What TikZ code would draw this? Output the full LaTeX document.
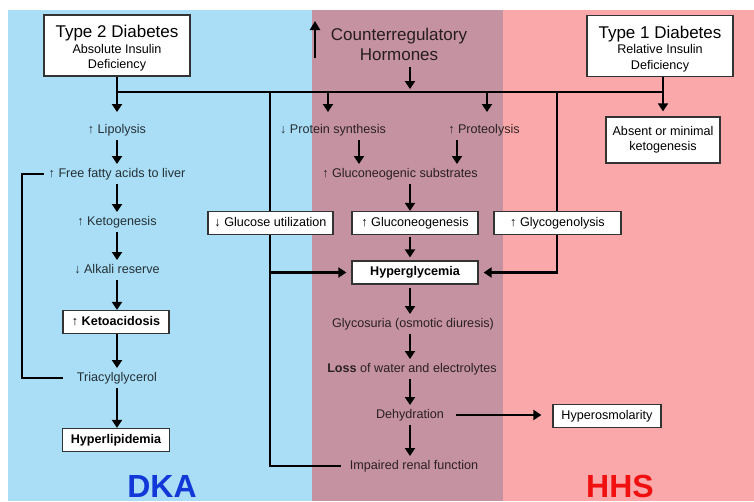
\documentclass[tikz,border=0pt]{standalone}
\usepackage{fontspec}
\setmainfont{Liberation Sans}
\usetikzlibrary{arrows.meta,calc}
\definecolor{bgblue}{HTML}{A9DEF6}
\definecolor{bgmauve}{HTML}{C492A0}
\definecolor{bgpink}{HTML}{FAA8AA}
\definecolor{dkablue}{HTML}{1238D8}
\definecolor{hhsred}{HTML}{F01010}
\definecolor{boxline}{HTML}{333333}
\begin{document}
\begin{tikzpicture}[x=1pt,y=-1pt,
  lbl/.style={font=\fontsize{12.6}{14}\selectfont, text opacity=0.78, inner xsep=2pt, inner ysep=4pt, text height=9pt, text depth=2.6pt},
  bx/.style={draw=boxline, line width=1.3pt, fill=white, font=\fontsize{12.6}{14}\selectfont, minimum height=23pt, inner xsep=4pt, text height=9pt, text depth=2.6pt},
  bbx/.style={bx, font=\fontsize{12.6}{14}\selectfont\bfseries},
  titlebox/.style={draw=boxline, line width=1.3pt, fill=white, minimum width=146pt, minimum height=61pt, align=center, font=\fontsize{12.6}{15.5}\selectfont},
  conn/.style={line width=2.5pt},
  arr/.style={conn, -{Triangle[length=8pt,width=10pt]}},
  big/.style={font=\fontsize{32}{32}\selectfont\bfseries, anchor=base, inner sep=0pt}
]
% backgrounds
\fill[white] (0,0) rectangle (754,501);
\fill[bgblue] (8,10) rectangle (312,501);
\fill[bgmauve] (312,10) rectangle (503,501);
\fill[bgpink] (503,10) rectangle (754,501);
\useasboundingbox (0,0) rectangle (754,501);
\clip (0,0) rectangle (754,501);

% top boxes
\node[titlebox] (t2) at (117,45.5) {\rule{0pt}{18pt}{\fontsize{17}{20}\selectfont Type 2 Diabetes}\\Absolute Insulin\\Deficiency};
\node[titlebox] (t1) at (660,46) {\rule{0pt}{18pt}{\fontsize{17}{20}\selectfont Type 1 Diabetes}\\Relative Insulin\\Deficiency};
\node[font=\fontsize{17}{20}\selectfont, align=center, text opacity=0.8] (horm) at (399,44) {Counterregulatory\\Hormones};
\coordinate (upB) at (315,58);
\coordinate (upT) at (315,21);
\draw[line width=2.8pt, -{Triangle[length=9pt,width=10pt]}] (upB) -- (upT);

% left column
\node[lbl] (lip) at (117,130) {↑ Lipolysis};
\node[lbl] (ffa) at (117,174) {↑ Free fatty acids to liver};
\node[lbl] (ket) at (117,222) {↑ Ketogenesis};
\node[lbl] (alk) at (117,270) {↓ Alkali reserve};
\node[bbx, minimum width=106pt] (kac) at (116,322) {↑ Ketoacidosis};
\node[lbl] (tri) at (117,378) {Triacylglycerol};
\node[bbx, minimum width=107pt] (hlp) at (116,440) {Hyperlipidemia};

% middle
\node[lbl] (ps) at (333,130) {↓ Protein synthesis};
\node[lbl] (pl) at (484,130) {↑ Proteolysis};
\node[lbl] (gsub) at (400,174) {↑ Gluconeogenic substrates};
\node[bx, minimum width=125pt] (gu) at (270.5,223) {↓ Glucose utilization};
\node[bx, minimum width=126pt] (gneo) at (415,223) {↑ Gluconeogenesis};
\node[bx, minimum width=127pt] (gy) at (557.5,223) {↑ Glycogenolysis};
\node[bbx, minimum width=126pt] (hg) at (415,272.5) {Hyperglycemia};
\node[lbl] (gly) at (413,324) {Glycosuria (osmotic diuresis)};
\node[lbl] (loss) at (412,369) {{\bfseries Loss} of water and electrolytes};
\node[lbl] (deh) at (410,415) {Dehydration};
\node[lbl] (imp) at (414,466) {Impaired renal function};

% right
\node[draw=boxline, line width=1.3pt, fill=white, align=center, minimum width=114pt, minimum height=46pt, font=\fontsize{12.6}{15}\selectfont] (abs) at (663,140) {Absent or minimal\\ketogenesis};
\node[bx, minimum width=108pt] (hos) at (607,416) {Hyperosmolarity};

% labels
\node[big, text=dkablue] (dka) at (162,497) {DKA};
\node[big, text=hhsred] (hhs) at (620,497) {HHS};

% bus
\coordinate (busL) at (117,92);
\coordinate (busR) at (663,92);
\coordinate (hb) at (410,92);
\draw[conn] (busL) -- (busR);
\draw[arr, shorten >=8pt] (t2.south) -- (lip.north);
\draw[arr, shorten >=5pt] (t1.south -| abs.north) -- (abs.north);
\draw[arr, shorten <=3pt, shorten >=3pt] (horm.south -| hb) -- (hb);
\coordinate (psx) at (328,0);
\coordinate (plx) at (487,0);
\draw[arr, shorten >=8pt] (psx |- busL) -- (psx |- ps.north);
\draw[arr, shorten >=8pt] (plx |- busL) -- (plx |- pl.north);

% left chain
\draw[arr] (lip.south) -- (ffa.north);
\draw[arr] (ffa.south) -- (ket.north);
\draw[arr] (ket.south) -- (alk.north);
\draw[arr] (alk.south) -- (kac.north -| alk.south);
\draw[arr] (kac.south -| tri.north) -- (tri.north);
\draw[arr] (tri.south) -- (hlp.north -| tri.south);
\coordinate (fbx) at (22,0);
\draw[conn, shorten <=12pt, shorten >=3pt] (tri.west) -- (tri.west -| fbx) -- (ffa.west -| fbx) -- (ffa.west);

% middle chain
\coordinate (a1) at (359,0);
\coordinate (a2) at (457,0);
\coordinate (mx) at (410,0);
\draw[arr] (ps.south -| a1) -- (gsub.north -| a1);
\draw[arr] (pl.south -| a2) -- (gsub.north -| a2);
\draw[arr] (gsub.south -| mx) -- (gneo.north -| mx);
\draw[arr, shorten <=2pt, shorten >=3pt] (gneo.south -| mx) -- (hg.north -| mx);
\draw[arr, shorten <=3pt] (hg.south -| mx) -- (gly.north -| mx);
\draw[arr] (gly.south -| mx) -- (loss.north -| mx);
\draw[arr] (loss.south -| mx) -- (deh.north -| mx);
\draw[arr] (deh.south -| mx) -- (imp.north -| mx);
\draw[arr, shorten <=10pt, shorten >=11pt] (deh.east) -- (deh.east -| hos.west);

% glucose utilization line
\coordinate (gx) at (270,92);
\draw[conn] (gx) -- (gu.north -| gx);
\draw[conn, shorten >=7pt] (gu.south -| gx) -- (gx |- imp.west) -- (imp.west);
\draw[arr, shorten >=5pt] (gx |- hg.west) -- (hg.west);

% glycogenolysis line
\coordinate (gyx) at (557,92);
\draw[conn] (gyx) -- (gy.north -| gyx);
\draw[arr, shorten >=5pt] (gy.south -| gyx) -- (gyx |- hg.east) -- (hg.east);
\end{tikzpicture}
\end{document}
